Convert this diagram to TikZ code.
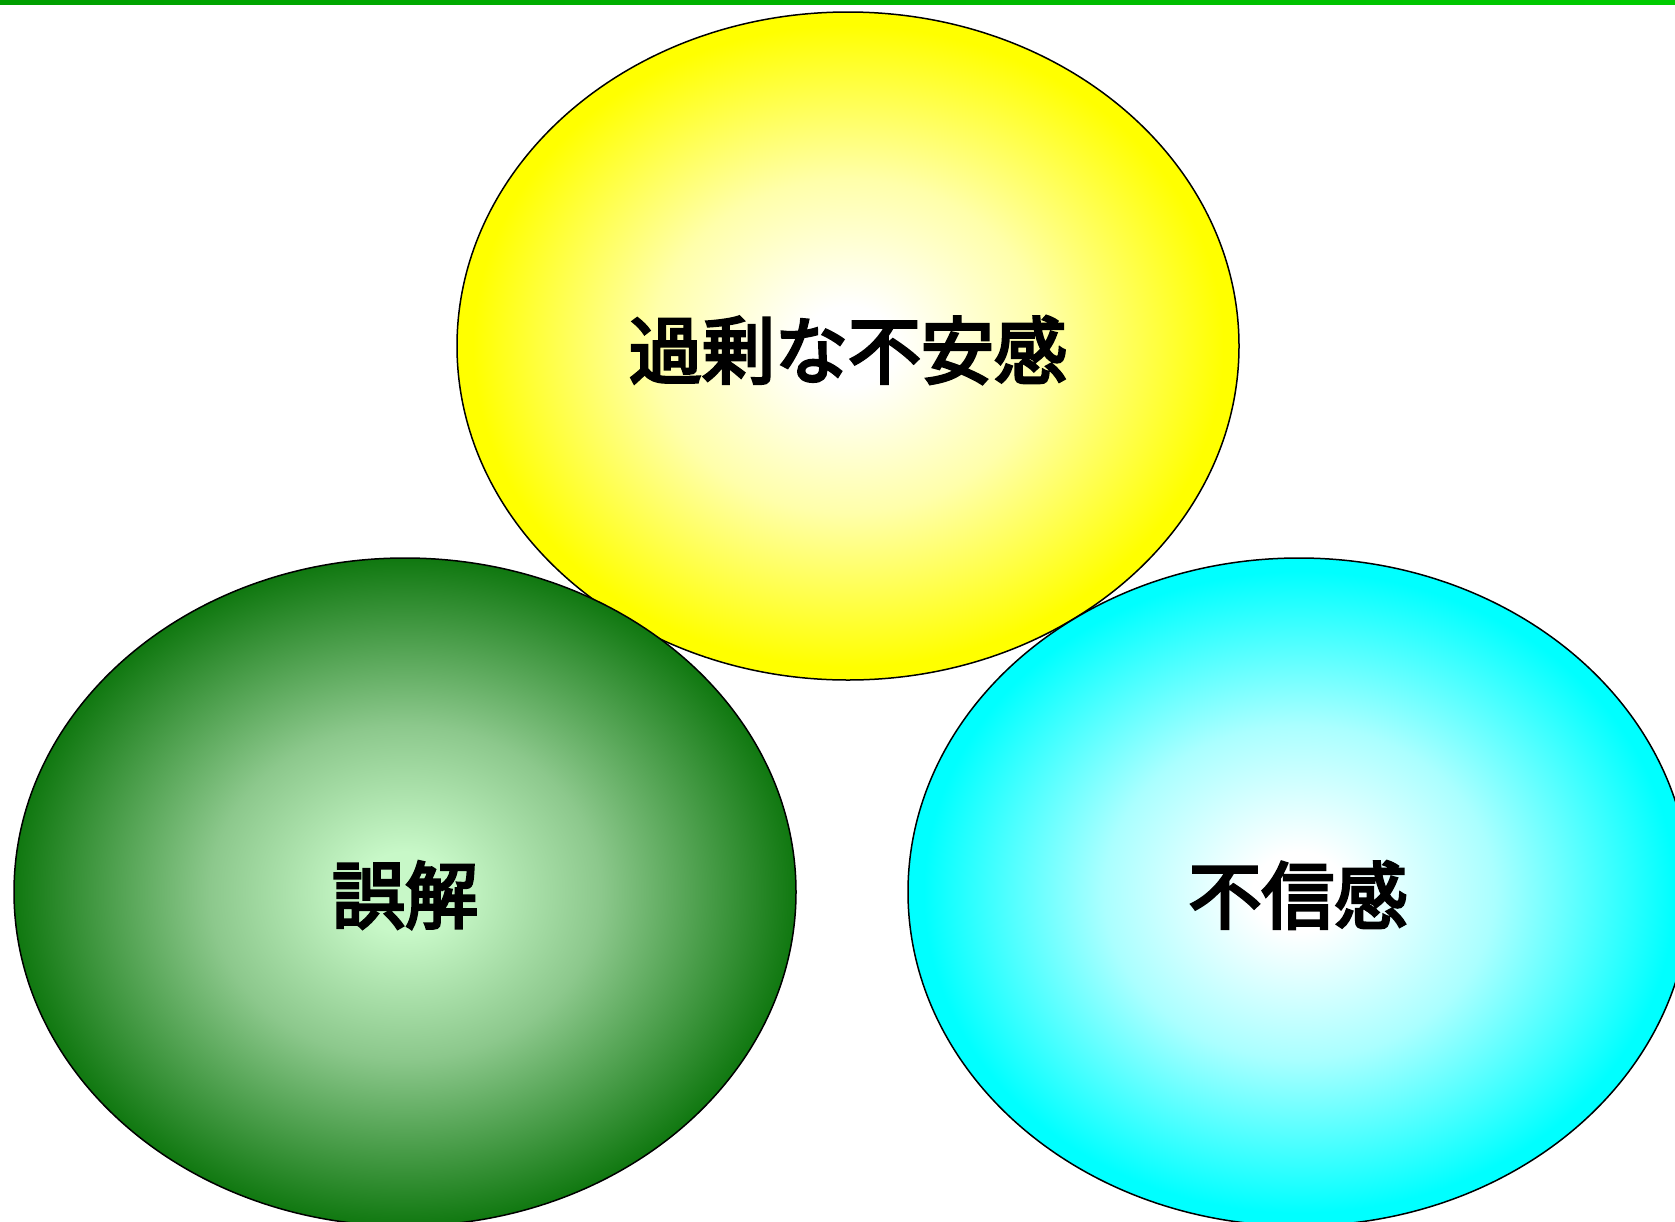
\documentclass[tikz,border=0pt]{standalone}
\usepackage{fontspec}
\newfontfamily\cjk{Noto Sans CJK JP}[FakeBold=4]
\definecolor{ylw}{HTML}{FFFF00}
\definecolor{ymid}{HTML}{FFFFAA}
\definecolor{cyn}{HTML}{00FFFF}
\definecolor{cmid}{HTML}{AAFFFF}
\definecolor{gdark}{HTML}{107810}
\definecolor{gmid}{HTML}{8CC88C}
\definecolor{glight}{HTML}{C8F8C8}
\definecolor{barL}{HTML}{009E00}
\definecolor{barR}{HTML}{00CC00}
\pgfdeclareradialshading{ysh}{\pgfpoint{0bp}{0bp}}{color(0bp)=(white); color(3bp)=(white); color(12.5bp)=(ymid); color(24bp)=(ylw); color(50bp)=(ylw)}
\pgfdeclareradialshading{csh}{\pgfpoint{0bp}{0bp}}{color(0bp)=(white); color(3bp)=(white); color(12.5bp)=(cmid); color(24bp)=(cyn); color(50bp)=(cyn)}
\pgfdeclareradialshading{gsh}{\pgfpoint{0bp}{0bp}}{color(0bp)=(glight); color(3bp)=(glight); color(12.5bp)=(gmid); color(25bp)=(gdark); color(50bp)=(gdark)}
\tikzset{
  blob/.style={draw=black, line width=1.5pt},
  lbl/.style={font=\cjk\fontsize{73}{80}\selectfont, text=black, inner sep=0pt}
}
\begin{document}
\begin{tikzpicture}[x=1pt,y=-1pt]
\useasboundingbox (0,0) rectangle (1675,1221);
\clip (0,0) rectangle (1675,1221);
\fill[white] (0,0) rectangle (1675,1221);
\shade[left color=barL, right color=barR] (0,0) rectangle (1675,4);
\shade[blob, shading=ysh] (848,346) ellipse [x radius=391, y radius=334];
\shade[blob, shading=gsh] (405,892) ellipse [x radius=391, y radius=334];
\shade[blob, shading=csh] (1299,892) ellipse [x radius=391, y radius=334];
\node[lbl] (t1) at (848,350) {過剰な不安感};
\node[lbl] (t2) at (405,895) {誤解};
\node[lbl] (t3) at (1298,895) {不信感};
\end{tikzpicture}
\end{document}
